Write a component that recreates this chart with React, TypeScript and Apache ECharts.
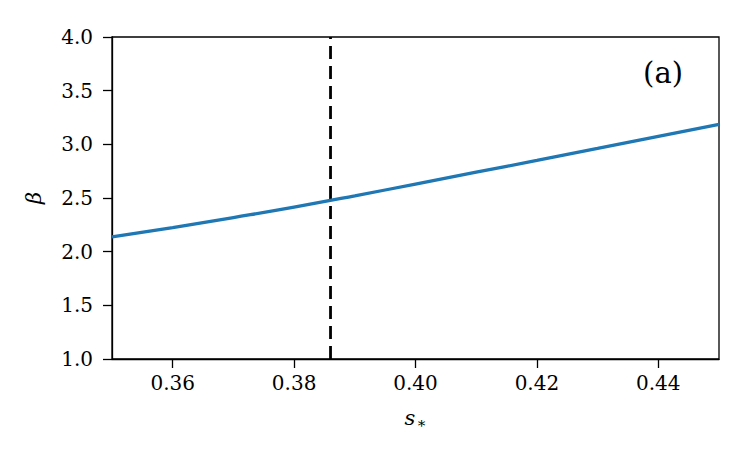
import React, { useEffect, useRef } from "react";
import * as echarts from "echarts";

const sValues = [0.35, 0.36, 0.37, 0.38, 0.39, 0.40, 0.41, 0.42, 0.43, 0.44, 0.45];
const betaValues = [2.137, 2.225, 2.318, 2.415, 2.52, 2.63, 2.74, 2.85, 2.962, 3.075, 3.185];
const xTicks = [0.36, 0.38, 0.40, 0.42, 0.44];
const criticalS = 0.386;
const betaRange = [1, 4];
const panelLabel = "(a)";

const FONT = "DejaVu Serif";

export default function App() {
  const ref = useRef<HTMLDivElement>(null);
  useEffect(() => {
    if (!ref.current) return;
    const chart = echarts.init(ref.current, null, { renderer: "svg" });
    chart.setOption({
      animation: false,
      backgroundColor: "#ffffff",
      textStyle: { fontFamily: FONT },
      grid: {
        left: 112,
        right: 28,
        top: 37,
        bottom: 103,
        show: true,
        borderColor: "#000",
        borderWidth: 1.3,
        containLabel: false,
      },
      xAxis: {
        type: "value",
        min: 0.35,
        max: 0.45,
        name: "{s|s}{sub|∗}",
        nameLocation: "middle",
        nameGap: 47,
        nameTextStyle: {
          fontFamily: FONT,
          rich: {
            s: { fontFamily: FONT, fontSize: 21, fontStyle: "italic", color: "#000" },
            sub: { fontFamily: FONT, fontSize: 15, color: "#000", verticalAlign: "bottom", padding: [9, 0, 0, 1] },
          },
        },
        axisLine: { show: true, lineStyle: { color: "#000", width: 1.3 } },
        axisTick: { show: true, inside: false, length: 9, lineStyle: { color: "#000", width: 1.3 }, customValues: xTicks },
        axisLabel: {
          customValues: xTicks,
          formatter: (v: number) => v.toFixed(2),
          fontFamily: FONT,
          fontSize: 20,
          color: "#000",
          margin: 14,
        },
        splitLine: { show: false },
      },
      yAxis: {
        type: "value",
        min: betaRange[0],
        max: betaRange[1],
        interval: 0.5,
        name: "β",
        nameLocation: "middle",
        nameGap: 68,
        nameTextStyle: { fontFamily: FONT, fontSize: 21, fontStyle: "italic", color: "#000" },
        axisLine: { show: true, lineStyle: { color: "#000", width: 1.3 } },
        axisTick: { show: true, inside: false, length: 9, lineStyle: { color: "#000", width: 1.3 } },
        axisLabel: {
          formatter: (v: number) => v.toFixed(1),
          fontFamily: FONT,
          fontSize: 20,
          color: "#000",
          margin: 19,
        },
        splitLine: { show: false },
      },
      graphic: [
        {
          type: "text",
          right: 64,
          top: 58,
          style: { text: panelLabel, fontFamily: FONT, fontSize: 29, fill: "#000" },
        },
      ],
      series: [
        {
          type: "line",
          data: [[criticalS, betaRange[0]], [criticalS, betaRange[1]]],
          showSymbol: false,
          lineStyle: { color: "#000", width: 2.8, type: [13, 7] },
          z: 1,
        },
        {
          type: "line",
          data: sValues.map((s, i) => [s, betaValues[i]]),
          smooth: true,
          showSymbol: false,
          lineStyle: { color: "#1f77b4", width: 3.3 },
          z: 2,
        },
      ],
    });
    return () => chart.dispose();
  }, []);
  return <div ref={ref} style={{ width: 747, height: 462, position: "absolute", left: 0, top: 0 }} />;
}
